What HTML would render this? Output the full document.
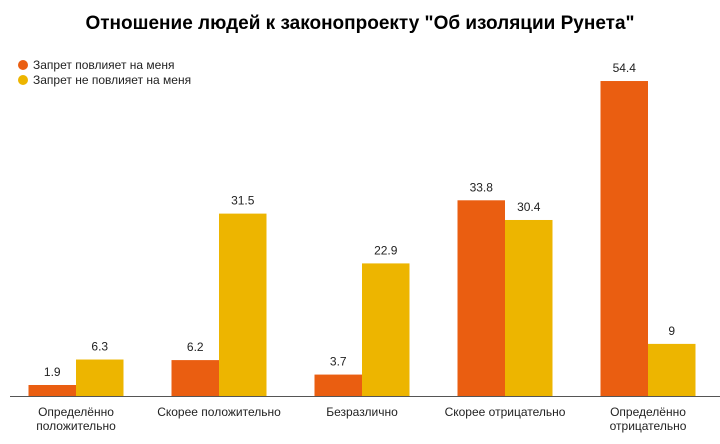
<!DOCTYPE html>
<html><head><meta charset="utf-8"><style>
body{margin:0;background:#fff;font-family:"Liberation Sans",Arial,sans-serif}
</style></head><body>
<svg width="720" height="439" xmlns="http://www.w3.org/2000/svg" style="font-family:'Liberation Sans',Arial,sans-serif">
<text x="360" y="29" text-anchor="middle" font-size="19" font-weight="bold" fill="#000">Отношение людей к законопроекту "Об изоляции Рунета"</text>
<g>
<circle cx="23" cy="65" r="5" fill="#ea5e11"/>
<text x="33" y="69" font-size="12" fill="#222">Запрет повлияет на меня</text>
<circle cx="23" cy="80" r="5" fill="#edb500"/>
<text x="33" y="84" font-size="12" fill="#222">Запрет не повлияет на меня</text>
</g>
<g id="bars"></g>
<line x1="10" y1="396.5" x2="720" y2="396.5" stroke="#555" stroke-width="1"/>
<g id="labels"></g>
</svg>
<script>
const categories=[["Определённо","положительно"],["Скорее положительно"],["Безразлично"],["Скорее отрицательно"],["Определённо","отрицательно"]];
const seriesAffects=[1.9,6.2,3.7,33.8,54.4];
const seriesNotAffects=[6.3,31.5,22.9,30.4,9];
const valueLabelsAffects=["1.9","6.2","3.7","33.8","54.4"];
const valueLabelsNotAffects=["6.3","31.5","22.9","30.4","9"];
const NS="http://www.w3.org/2000/svg";
const base=396, k=5.79, x0=76, step=143, bw=47.5;
const y=v=>base-v*k;
const xc=i=>x0+i*step;
const bars=document.getElementById('bars'), labels=document.getElementById('labels');
function mk(t,a,p){const e=document.createElementNS(NS,t);for(const n in a)e.setAttribute(n,a[n]);p.appendChild(e);return e;}
categories.forEach((c,i)=>{
  [[seriesAffects,valueLabelsAffects,'#ea5e11',-bw],[seriesNotAffects,valueLabelsNotAffects,'#edb500',0]].forEach(([s,l,col,off],j)=>{
    const r=mk('rect',{x:xc(i)+off,y:y(s[i]),width:bw,height:s[i]*k,fill:col},bars);
    
    
    const t=mk('text',{x:xc(i)+off+bw/2,y:y(s[i])-9,'text-anchor':'middle','font-size':'12',fill:'#222'},bars);
    t.textContent=l[i];
    
    
  });
  c.forEach((line,li)=>{
    const t=mk('text',{x:xc(i),y:416+li*14,'text-anchor':'middle','font-size':'12',fill:'#222'},labels);
    t.textContent=line;
    
    
  });
});
</script>
</body></html>
